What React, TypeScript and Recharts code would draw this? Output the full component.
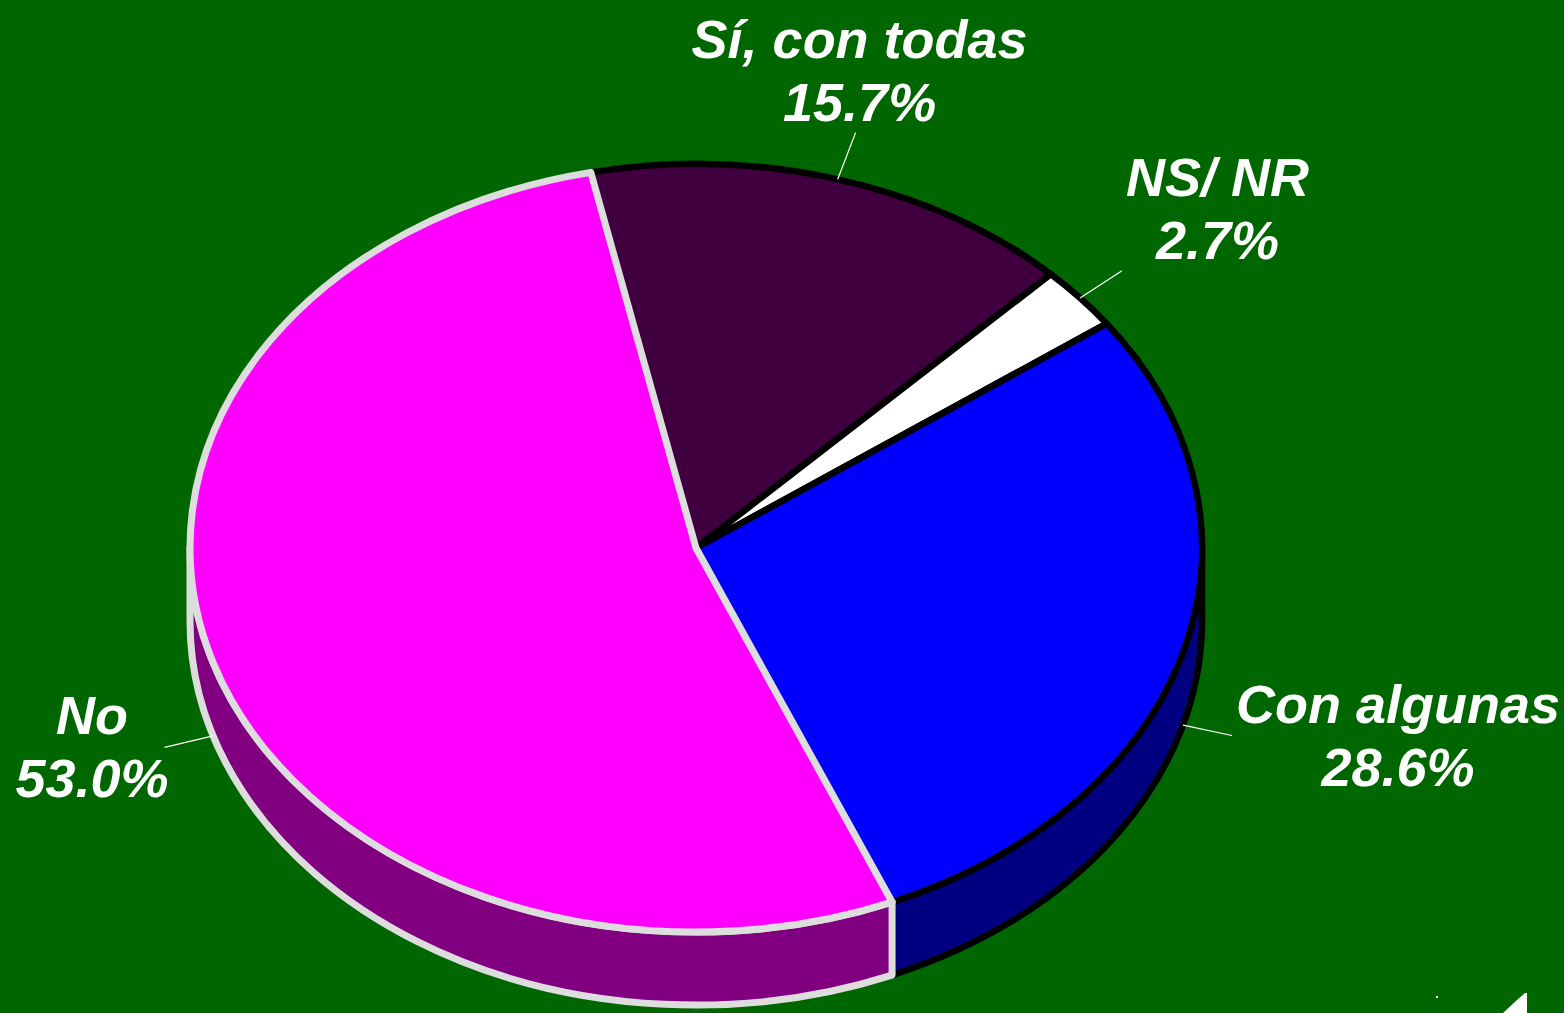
import React from 'react';
import { PieChart, Pie, Cell } from 'recharts';

const categories = ['Sí, con todas', 'NS/ NR', 'Con algunas', 'No'];
const values = [15.7, 2.7, 28.6, 53.0];
const topColors = ['#400040', '#FFFFFF', '#0000FF', '#FF00FF'];
const sideColors = ['#200020', '#C0C0C0', '#000080', '#800080'];
const edgeColors = ['#000000', '#000000', '#000000', '#DDDDDD'];

const data = categories.map((name, i) => ({ name, value: values[i] }));

const W = 1564;
const H = 1013;
const CX = 696;
const CY = 548;
const RX = 506;
const TILT = 0.759;
const DEPTH = 73;
const FONT_SIZE = 54;
const FONT = `italic bold ${FONT_SIZE}px "Liberation Sans"`;
const LINE_GAP = 63;
const BG = '#006600';

const RAD = Math.PI / 180;
const ept = (cx: number, cy: number, rx: number, ry: number, a: number, dy = 0) =>
  [cx + rx * Math.cos(a * RAD), cy - ry * Math.sin(a * RAD) + dy];
const fmt = (p: number[]) => `${p[0].toFixed(2)},${p[1].toFixed(2)}`;

let ctx: CanvasRenderingContext2D | null = null;
function textWidth(s: string) {
  if (!ctx) {
    const c = document.createElement('canvas');
    ctx = c.getContext('2d');
  }
  if (!ctx) return s.length * 28;
  ctx.font = FONT;
  return ctx.measureText(s).width;
}

function idxOf(props: any) {
  const nm = props?.payload?.name ?? props?.name;
  const i = categories.indexOf(nm);
  return i >= 0 ? i : props.index ?? 0;
}

function EllipseSector(props: any) {
  const { cx, cy, outerRadius, startAngle, endAngle } = props;
  const i = idxOf(props);
  const rx = outerRadius;
  const ry = outerRadius * TILT;
  const hi = Math.max(startAngle, endAngle);
  const lo = Math.min(startAngle, endAngle);
  const p1 = ept(cx, cy, rx, ry, hi);
  const p2 = ept(cx, cy, rx, ry, lo);
  const large = hi - lo > 180 ? 1 : 0;
  const top = `M${cx},${cy} L${fmt(p1)} A${rx},${ry} 0 ${large} 1 ${fmt(p2)} Z`;
  const sides: string[] = [];
  for (const k of [-720, -360, 0, 360]) {
    const a = Math.max(lo, -180 + k);
    const b = Math.min(hi, k);
    if (b > a) {
      const s1 = ept(cx, cy, rx, ry, b);
      const s2 = ept(cx, cy, rx, ry, a);
      const s3 = ept(cx, cy, rx, ry, a, DEPTH);
      const s4 = ept(cx, cy, rx, ry, b, DEPTH);
      sides.push(`M${fmt(s1)} A${rx},${ry} 0 0 1 ${fmt(s2)} L${fmt(s3)} A${rx},${ry} 0 0 0 ${fmt(s4)} Z`);
    }
  }
  const sw = i === 3 ? 7 : 6.5;
  return (
    <g>
      {sides.map((d, j) => (
        <path key={j} d={d} fill={sideColors[i]} stroke={edgeColors[i]} strokeWidth={sw} strokeLinejoin="round" />
      ))}
      <path d={top} fill={topColors[i]} stroke={edgeColors[i]} strokeWidth={sw} strokeLinejoin="round" />
    </g>
  );
}

function renderLabel(props: any) {
  const { cx, cy, outerRadius, midAngle } = props;
  const i = idxOf(props);
  const rx = outerRadius;
  const ry = outerRadius * TILT;
  const front = Math.sin(midAngle * RAD) < 0;
  const base = ept(cx, cy, rx, ry, midAngle);
  const dx = base[0] - cx;
  const dy = base[1] - cy;
  const len = Math.hypot(dx, dy);
  const ux = dx / len;
  const uy = dy / len;
  const start = [base[0], base[1] + (front ? DEPTH : 0)];
  const end = [start[0] + ux * 50, start[1] + uy * 50];
  const l1 = categories[i];
  const l2 = `${values[i].toFixed(1)}%`;
  const bw = Math.max(textWidth(l1), textWidth(l2));
  let tx: number;
  if (Math.abs(ux) < 0.5) tx = end[0] + 4;
  else if (ux > 0) tx = end[0] + 4 + bw / 2;
  else tx = end[0] + 4 - bw / 2;
  let b2: number;
  if (uy < -0.5) b2 = end[1] - 12;
  else b2 = end[1] + 50;
  const b1 = b2 - LINE_GAP;
  return (
    <g key={`lab-${i}`}>
      <line x1={start[0]} y1={start[1]} x2={end[0]} y2={end[1]} stroke="#FFFFFF" strokeWidth={1.2} />
      <text x={tx} y={b1} textAnchor="middle" fill="#FFFFFF" fontFamily='"Liberation Sans", Arial, sans-serif' fontWeight="bold" fontStyle="italic" fontSize={FONT_SIZE}>{l1}</text>
      <text x={tx} y={b2} textAnchor="middle" fill="#FFFFFF" fontFamily='"Liberation Sans", Arial, sans-serif' fontWeight="bold" fontStyle="italic" fontSize={FONT_SIZE}>{l2}</text>
    </g>
  );
}

export default function App() {
  return (
    <div style={{ position: 'absolute', left: 0, top: 0, width: W, height: H, background: BG, overflow: 'hidden' }}>
      <PieChart width={W} height={H} margin={{ top: 0, right: 0, bottom: 0, left: 0 }}>
        <Pie
          data={data}
          dataKey="value"
          nameKey="name"
          cx={CX}
          cy={CY}
          innerRadius={0}
          outerRadius={RX}
          startAngle={102}
          endAngle={-258}
          isAnimationActive={false}
          shape={EllipseSector}
          label={renderLabel}
          labelLine={false}
          stroke="none"
        >
          {data.map((d, i) => (
            <Cell key={d.name} fill={topColors[i]} />
          ))}
        </Pie>
      </PieChart>
      <svg width={W} height={H} style={{ position: 'absolute', left: 0, top: 0, pointerEvents: 'none' }}>
        <path d="M1503,1013 L1517,1000 L1525,993 L1527,993 L1527,1013 Z" fill="#FFFFFF" />
        <rect x={1436} y={996} width={2} height={2} fill="#FFFFFF" />
      </svg>
    </div>
  );
}
